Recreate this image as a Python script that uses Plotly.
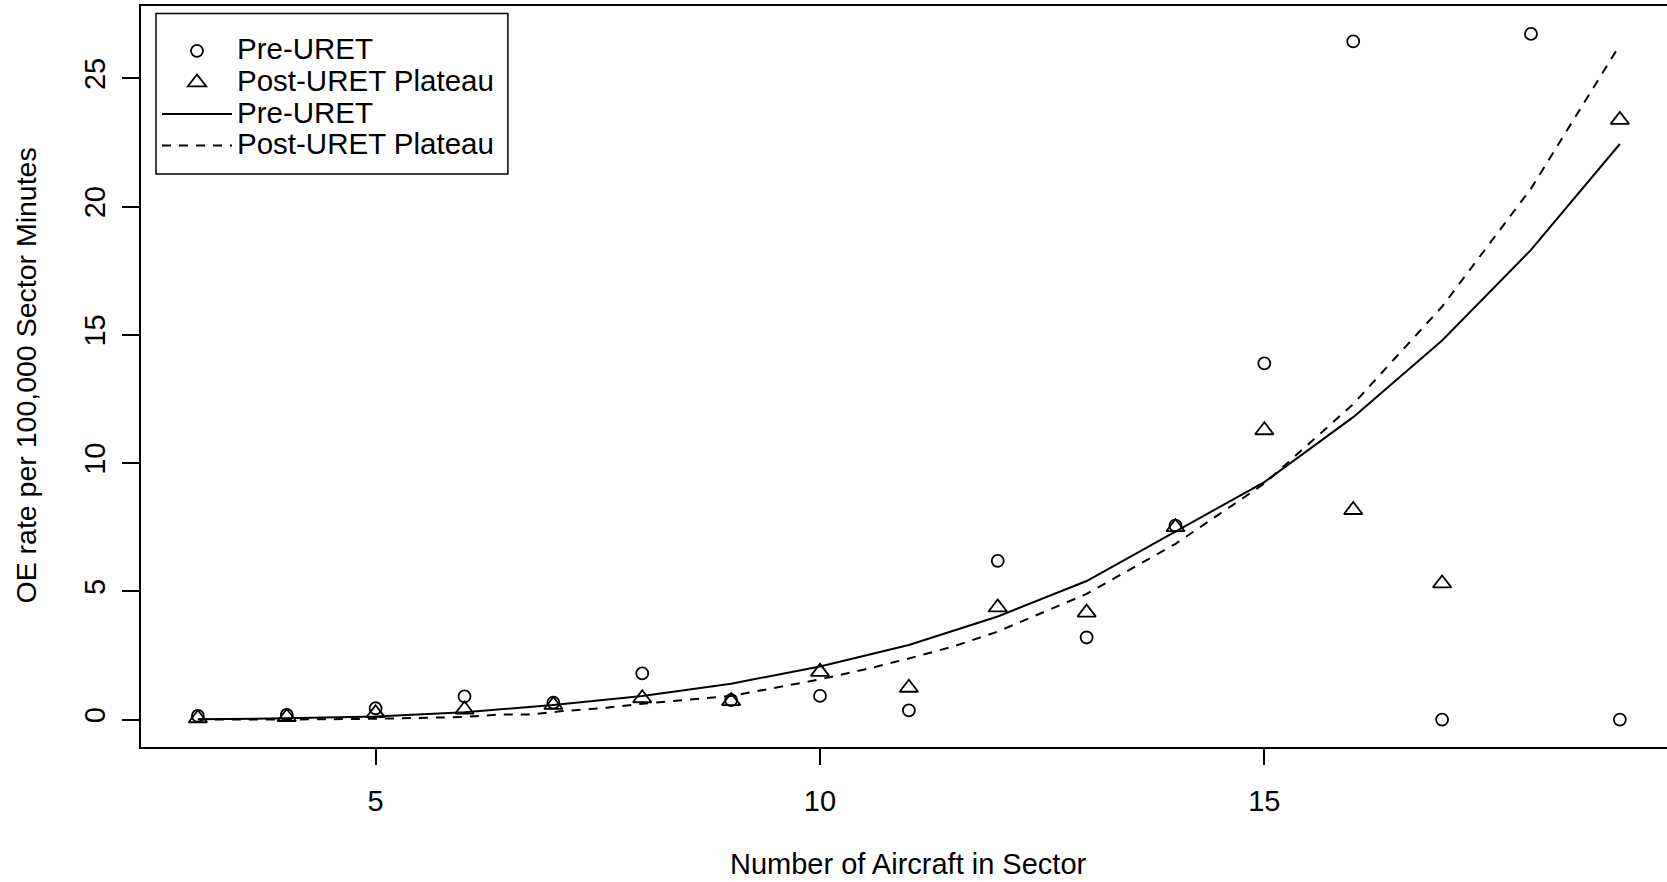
import plotly.graph_objects as go

# ---- data ----
aircraft = [3, 4, 5, 6, 7, 8, 9, 10, 11, 12, 13, 14, 15, 16, 17, 18, 19]
pre_uret_rate = [0.14, 0.18, 0.44, 0.90, 0.66, 1.80, 0.76, 0.92, 0.36, 6.19, 3.20,
                 7.56, 13.89, 26.44, 0.0, 26.73, 0.0]
post_uret_rate = [0.05, 0.10, 0.25, 0.39, 0.57, 0.83, 0.72, 1.86, 1.24, 4.37, 4.17,
                  7.50, 11.28, 8.17, 5.31, None, 23.38]
pre_fit = [0.01, 0.05, 0.12, 0.28, 0.57, 0.92, 1.40, 2.07, 2.91, 4.02, 5.40,
           7.33, 9.26, 11.79, 14.78, 18.31, 22.44]
post_fit_x = [3, 4, 5, 6, 6.4, 6.75, 7.1, 7.6, 8.0, 9.0, 9.5, 10.0, 10.5, 11.0,
              11.5, 12.0, 13, 14, 15, 16, 17, 18, 19]
post_fit = [0.0, 0.0, 0.03, 0.10, 0.2, 0.2, 0.33, 0.46, 0.62, 0.92, 1.24, 1.57,
            1.95, 2.38, 2.85, 3.43, 4.9, 6.85, 9.2, 12.3, 16.1, 20.7, 26.3]

series_names = ["Pre-URET", "Post-URET Plateau"]
x_ticks = [5, 10, 15]
y_ticks = [0, 5, 10, 15, 20, 25]
x_title = "Number of Aircraft in Sector"
y_title = "OE rate per 100,000 Sector Minutes"

FONT = "Liberation Sans, Arial, Helvetica, sans-serif"
FS = 29
LEG_FS = 29.5


def leg_name(s):
    return '<span style="font-size:%spx">%s</span>' % (LEG_FS, s)


fig = go.Figure()
fig.add_trace(go.Scatter(
    x=aircraft, y=pre_uret_rate, mode="markers", name=leg_name(series_names[0]),
    marker=dict(symbol="circle-open", size=12, color="black",
                line=dict(width=1.8, color="black")),
))
fig.add_trace(go.Scatter(
    x=aircraft, y=post_uret_rate, mode="markers", name=leg_name(series_names[1]),
    marker=dict(symbol="triangle-up-open", size=16, color="black",
                line=dict(width=1.8, color="black")),
))
fig.add_trace(go.Scatter(
    x=aircraft, y=pre_fit, mode="lines", name=leg_name(series_names[0]),
    line=dict(color="black", width=2),
))
fig.add_trace(go.Scatter(
    x=post_fit_x, y=post_fit, mode="lines", name=leg_name(series_names[1]),
    line=dict(color="black", width=2, dash="9px,8px"),
))

L, T, B = 140.5, 6, 135
W, H = 1667, 882
pw = W - L
ph = H - T - B


def px_x(p):
    return (p - L) / pw


def px_y(p):
    return (H - B - p) / ph


fig.update_layout(
    width=W, height=H,
    margin=dict(l=L, r=0, t=T, b=B, pad=0),
    paper_bgcolor="white", plot_bgcolor="white",
    font=dict(family=FONT, size=FS, color="black"),
    showlegend=True,
    legend=dict(
        x=px_x(156.5), y=px_y(30), xanchor="left", yanchor="top",
        borderwidth=0, bgcolor="rgba(0,0,0,0)",
        font=dict(family=FONT, size=22, color="black"),
        itemwidth=70, tracegroupgap=0, traceorder="normal",
    ),
    shapes=[
        dict(type="rect", xref="paper", yref="paper",
             x0=px_x(155.5), x1=px_x(507.5), y0=px_y(174), y1=px_y(13.5),
             line=dict(color="black", width=1.5), fillcolor="white",
             layer="above"),
    ],
    xaxis=dict(
        range=[2.36, 5 + (W - 374.5) / 88.95], tickvals=x_ticks,
        showgrid=False, zeroline=False, showline=True, linecolor="black",
        linewidth=1.5, mirror=True, ticks="outside", ticklen=16, tickwidth=1.5,
        tickcolor="black", ticklabelstandoff=11,
        tickfont=dict(family=FONT, size=FS, color="black"),
    ),
    yaxis=dict(
        range=[-1.07, 27.82], tickvals=y_ticks,
        showgrid=False, zeroline=False, showline=True, linecolor="black",
        linewidth=1.5, mirror=False, ticks="outside", ticklen=17, tickwidth=1.5,
        tickcolor="black", tickangle=-90, ticklabelstandoff=6,
        tickfont=dict(family=FONT, size=FS, color="black"),
    ),
    annotations=[
        dict(text=x_title, xref="x", yref="paper", x=11.0,
             y=px_y(863.6), xanchor="center", yanchor="middle",
             showarrow=False, font=dict(family=FONT, size=FS, color="black")),
        dict(text=y_title, xref="paper", yref="paper", x=px_x(25),
             y=px_y(376), xanchor="center", yanchor="middle",
             textangle=-90, showarrow=False,
             font=dict(family=FONT, size=28.5, color="black")),
    ],
)

fig.write_html("out.html")
